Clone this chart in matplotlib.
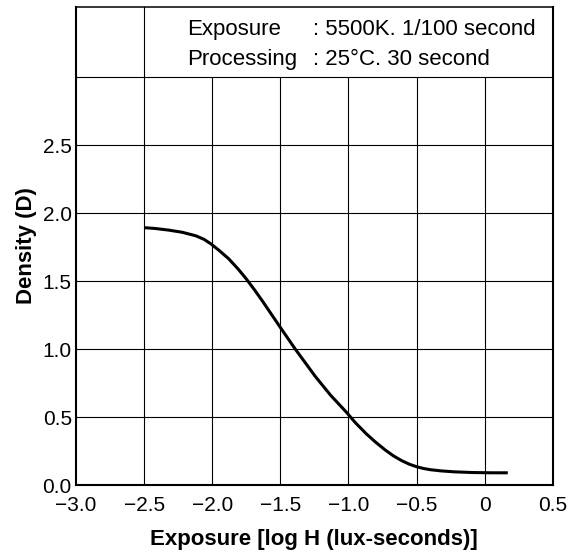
import matplotlib.pyplot as plt

plt.rcParams['font.family'] = ['Liberation Sans', 'DejaVu Sans']

# characteristic curve
log_h = [-2.5, -2.42, -2.32, -2.22, -2.12, -2.06, -2.01, -1.95, -1.88, -1.81,
         -1.75, -1.69, -1.63, -1.50, -1.39, -1.24, -1.13, -1.015, -0.95, -0.87,
         -0.80, -0.73, -0.67, -0.61, -0.55, -0.50, -0.45, -0.40, -0.32, -0.22,
         -0.09, 0.05, 0.17]
density = [1.894, 1.888, 1.876, 1.860, 1.834, 1.808, 1.775, 1.727, 1.666, 1.590,
           1.517, 1.437, 1.352, 1.160, 1.000, 0.795, 0.660, 0.536, 0.460, 0.378,
           0.315, 0.258, 0.215, 0.180, 0.152, 0.135, 0.122, 0.113, 0.104, 0.097,
           0.092, 0.090, 0.090]

xticks = [-3.0, -2.5, -2.0, -1.5, -1.0, -0.5, 0.0, 0.5]
xticklabels = ['\u22123.0', '\u22122.5', '\u22122.0', '\u22121.5', '\u22121.0', '\u22120.5', '0', '0.5']
yticks = [0.0, 0.5, 1.0, 1.5, 2.0, 2.5]
yticklabels = ['0.0', '0.5', '1.0', '1.5', '2.0', '2.5']

fig = plt.figure(figsize=(5.71, 5.54), dpi=100)
ax = fig.add_axes([0.1331, 0.1245, 0.8349, 0.8634])

ax.set_xlim(-3.0, 0.5)
ax.set_ylim(0, 3.52)

# grid: only the -2.5 line runs up through the note box
for x in xticks[1:-1]:
    top = 3.52 if x == -2.5 else 3.0
    ax.plot([x, x], [0, top], color='black', lw=0.8, zorder=1)
for y in yticks[1:] + [3.0]:
    ax.axhline(y, color='black', lw=0.8, zorder=1)

ax.plot(log_h, density, color='black', lw=2.2, solid_capstyle='butt', zorder=3)

ax.set_xticks(xticks)
ax.set_xticklabels(xticklabels)
ax.set_yticks(yticks)
ax.set_yticklabels(yticklabels)
ax.tick_params(length=0, labelsize=15)
ax.tick_params(axis='x', pad=8)
ax.tick_params(axis='y', pad=3)

for s in ['left', 'bottom', 'right']:
    ax.spines[s].set_linewidth(1.5)
ax.spines['top'].set_linewidth(1.1)

ax.set_xlabel('Exposure [log H (lux-seconds)]', fontsize=16, fontweight='bold', labelpad=10)
ax.set_ylabel('Density (D)', fontsize=16, fontweight='bold', labelpad=4)

ax.text(-2.185, 3.35, 'Exposure', fontsize=16, va='center')
ax.text(-2.185, 3.135, 'Processing', fontsize=16, va='center')
ax.text(-1.26, 3.35, ': 5500K. 1/100 second', fontsize=16, va='center')
ax.text(-1.26, 3.135, ': 25\u00b0C. 30 second', fontsize=16, va='center')

fig.savefig('out.png', dpi=100)
